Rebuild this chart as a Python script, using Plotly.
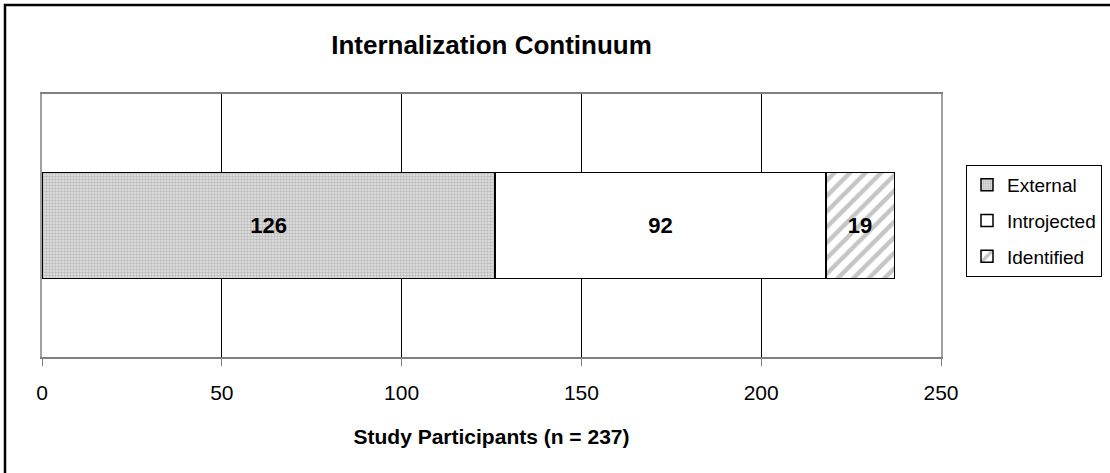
import plotly.graph_objects as go

# Internalization continuum: participants per motivation type
categories = ["External", "Introjected", "Identified"]
counts = [126, 92, 19]
row_label = ["Participants"]
x_ticks = [0, 50, 100, 150, 200, 250]

styles = {
    "External": dict(color="#c8c8c8",
                     pattern=dict(shape=".", size=3, solidity=0.5,
                                  fgcolor="#969696", bgcolor="#e2e2e2")),
    "Introjected": dict(color="white"),
    "Identified": dict(color="white",
                       pattern=dict(shape="/", size=11, solidity=0.4,
                                    fgcolor="#8c8c8c", bgcolor="white")),
}

fig = go.Figure()
for name, val in zip(categories, counts):
    fig.add_trace(go.Bar(
        x=[val], y=row_label, name=name, orientation="h",
        legendgroup=name,
        marker=dict(**styles[name], line=dict(color="black", width=1.5)),
        text=[str(val)], textposition="inside", insidetextanchor="middle",
        textfont=dict(family="Arial", size=22, color="black", weight="bold"),
        hoverinfo="x+name",
    ))

L, R, T, B = 42, 941, 94, 357
W, H = 1110, 473
pw, ph = R - L, B - T

def px_x(p):
    return (p - L) / pw

def px_y(p):
    return (B - p) / ph

fig.update_layout(
    width=W, height=H,
    margin=dict(l=L, r=W - R, t=T, b=H - B, pad=0, autoexpand=False),
    paper_bgcolor="white", plot_bgcolor="white",
    barmode="stack", bargap=0.597,
    font=dict(family="Arial", size=21, color="black"),
    title=dict(text="<b>Internalization Continuum</b>", x=0.5, xref="paper",
               xanchor="center", y=1 - 45 / H, yanchor="middle",
               font=dict(family="Arial", size=26, color="black")),
    xaxis=dict(range=[0, 250], tickvals=x_ticks, ticks="outside", ticklen=7,
               tickcolor="#808080", showgrid=True, gridcolor="black", gridwidth=1,
               zeroline=False, showline=True, linecolor="#808080", linewidth=1.5,
               mirror=True, ticklabelstandoff=9,
               tickfont=dict(family="Arial", size=21, color="black"),
               title=dict(text="<b>Study Participants (n = 237)</b>", standoff=26,
                          font=dict(family="Arial", size=21, color="black"))),
    yaxis=dict(showticklabels=False, ticks="", showgrid=False, zeroline=False,
               showline=True, linecolor="#a0a0a0", linewidth=1.5, mirror=True,
               fixedrange=True),
    legend=dict(x=px_x(966), y=px_y(165), xanchor="left", yanchor="top",
                bordercolor="black", borderwidth=1, bgcolor="white",
                tracegroupgap=8, traceorder="grouped",
                font=dict(family="Arial", size=19, color="black")),
    shapes=[dict(type="rect", xref="paper", yref="paper",
                 x0=px_x(5), x1=px_x(1130), y0=px_y(490), y1=px_y(5),
                 line=dict(color="black", width=2.5), fillcolor="rgba(0,0,0,0)",
                 layer="below")],
)

fig.write_html("out.html")
